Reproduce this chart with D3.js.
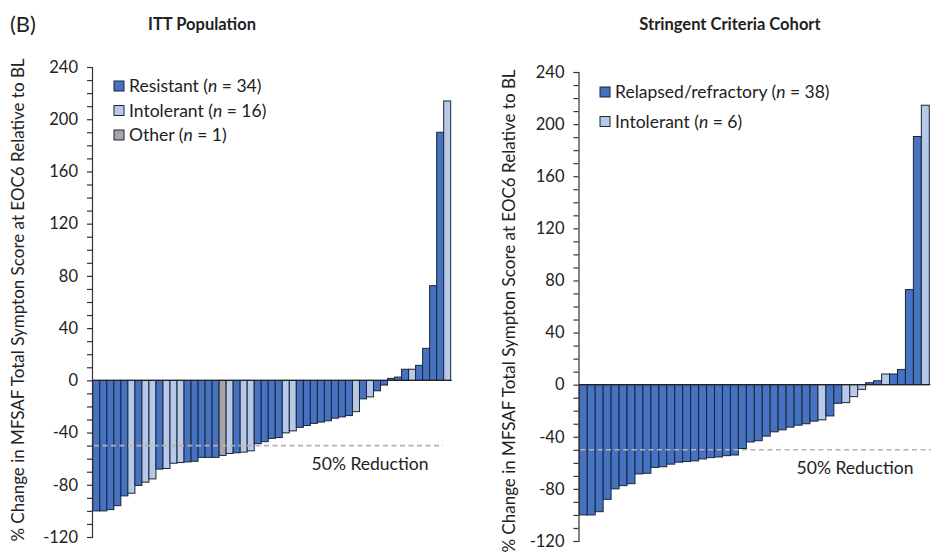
<!DOCTYPE html>
<html>
<head>
<meta charset="utf-8">
<script src="https://cdn.jsdelivr.net/npm/d3@7/dist/d3.min.js"></script>
<style>
  html, body { margin: 0; padding: 0; background: #fff; }
  svg { display: block; font-family: Lato, "Open Sans", sans-serif; }
</style>
</head>
<body>
<svg id="chart" width="935" height="552"></svg>
<script>
// Group codes: R = resistant / relapsed-refractory, I = intolerant, O = other
const ittGroups = [
  "R","R","R","R","R","I","R","I","I","R",
  "I","I","I","R","R","R","R","R","O","I",
  "R","I","I","R","R","R","R","I","I","R",
  "R","R","R","R","R","R","R","I","R","I",
  "R","R","R","R","R","I","R","R","R","R","I"
];
const ittValues = [
  -100, -100, -99, -96, -88.5, -86.5, -80.5, -78, -75.5, -68,
  -67.5, -63.5, -63, -62.5, -62, -59, -59, -59, -57.5, -56,
  -55.5, -55, -54, -48.5, -47, -44.5, -43.8, -40.2, -38.7, -36,
  -34.6, -33, -32, -31, -29, -28, -27, -24, -14.2, -12.7,
  -8, -3.6, 1.5, 2.5, 8.5, 8.5, 11.5, 24.5, 72.5, 190, 214
];

const scGroups = [
  "R","R","R","R","R","R","R","R","R","R",
  "R","R","R","R","R","R","R","R","R","R",
  "R","R","R","R","R","R","R","R","R","R",
  "I","R","R","I","I","I","R","R","I","R",
  "R","R","R","I"
];
const scValues = [
  -100, -100, -97.5, -88, -80, -77.5, -76, -68.5, -68, -63.5,
  -63, -61, -59.5, -59, -58.5, -57, -56, -55.5, -54.5, -54,
  -49, -44, -43, -39.5, -36.2, -34.7, -32.6, -31.1, -30, -28,
  -27, -24, -14.3, -13.8, -9.2, -3.6, 1.5, 3, 8.2, 8.2,
  11.7, 73, 190.5, 214.5
];

const yTicks = d3.range(-120, 241, 10);
const yLabelTicks = [-120, -80, -40, 0, 40, 80, 120, 160, 200, 240];
const reductionLevel = -50;

const ittLegend = [
  { g: "R", name: "Resistant", n: "34" },
  { g: "I", name: "Intolerant", n: "16" },
  { g: "O", name: "Other", n: "1" }
];
const scLegend = [
  { g: "R", name: "Relapsed/refractory", n: "38" },
  { g: "I", name: "Intolerant", n: "6" }
];

const fills = { R: "#4672c2", I: "#b7c9e8", O: "#a6a6a6" };
const yTitle = "% Change in MFSAF Total Sympton Score at EOC6 Relative to BL";

const svg = d3.select("#chart");

svg.append("text")
  .attr("x", 10).attr("y", 32)
  .attr("font-size", 22).attr("fill", "#222")
  .text("(B)");

function panel(cfg) {
  const g = svg.append("g");
  const y = d3.scaleLinear().domain([-120, 240]).range([cfg.bottom, cfg.top]);
  const x = d3.scaleBand()
    .domain(d3.range(cfg.values.length))
    .range([cfg.axisX + 0.8, cfg.right])
    .padding(0);

  // title
  g.append("text")
    .attr("x", cfg.titleX).attr("y", 30)
    .attr("text-anchor", "middle")
    .attr("font-size", 16.5).attr("font-weight", 700).attr("fill", "#222")
    .text(cfg.title);

  // y-axis title
  g.append("text")
    .attr("transform", `translate(${cfg.yTitleX},${cfg.yTitleY}) rotate(-90)`)
    .attr("text-anchor", "middle")
    .attr("font-size", 17).attr("fill", "#222")
    .text(yTitle);

  // bars
  g.append("g").selectAll("rect")
    .data(cfg.values)
    .join("rect")
    .attr("x", (d, i) => x(i))
    .attr("width", x.bandwidth())
    .attr("y", d => y(Math.max(0, d)))
    .attr("height", d => Math.abs(y(d) - y(0)))
    .attr("fill", (d, i) => fills[cfg.groups[i]])
    .attr("stroke", "#1c2536")
    .attr("stroke-width", 1);

  // zero line
  g.append("line")
    .attr("x1", cfg.axisX).attr("x2", cfg.right + 1)
    .attr("y1", y(0)).attr("y2", y(0))
    .attr("stroke", "#222").attr("stroke-width", 1.2);

  // 50% reduction reference line
  g.append("line")
    .attr("x1", cfg.axisX + 2).attr("x2", cfg.dashEnd)
    .attr("y1", y(reductionLevel)).attr("y2", y(reductionLevel))
    .attr("stroke", "#b3b3b3").attr("stroke-width", 1.6)
    .attr("stroke-dasharray", "5,3.5");

  g.append("text")
    .attr("x", cfg.noteX).attr("y", y(reductionLevel) + 24)
    .attr("text-anchor", "middle")
    .attr("font-size", 17.5).attr("fill", "#222")
    .text("50% Reduction");

  // y axis
  const axis = d3.axisLeft(y)
    .tickValues(yTicks)
    .tickSize(5)
    .tickPadding(9)
    .tickFormat(v => yLabelTicks.includes(v) ? v : "");
  const ag = g.append("g")
    .attr("transform", `translate(${cfg.axisX},0)`)
    .call(axis);
  ag.select(".domain").attr("stroke", "#333").attr("stroke-width", 1.2);
  ag.selectAll(".tick line").attr("stroke", "#333").attr("stroke-width", 1.2);
  ag.selectAll(".tick text")
    .attr("font-family", "Lato, sans-serif")
    .attr("font-size", 16.5).attr("fill", "#222");

  // legend
  const lg = g.append("g");
  cfg.legend.forEach((item, k) => {
    const cy = cfg.legendY + k * cfg.legendStep;
    lg.append("rect")
      .attr("x", cfg.legendX).attr("y", cy - 5)
      .attr("width", 10).attr("height", 10)
      .attr("fill", fills[item.g])
      .attr("stroke", "#1c2536").attr("stroke-width", 1);
    const t = lg.append("text")
      .attr("x", cfg.legendX + 15).attr("y", cy + 6)
      .attr("font-size", 17.5).attr("fill", "#222");
    t.append("tspan").text(item.name + " (");
    t.append("tspan").attr("font-style", "italic").text("n");
    t.append("tspan").text(" = " + item.n + ")");
  });
}

panel({
  title: "ITT Population", titleX: 202,
  values: ittValues, groups: ittGroups, legend: ittLegend,
  axisX: 92, right: 450.7, top: 67, bottom: 537,
  yTitleX: 24, yTitleY: 300, dashEnd: 443, noteX: 370,
  legendX: 114, legendY: 86, legendStep: 24.5
});

panel({
  title: "Stringent Criteria Cohort", titleX: 730,
  values: scValues, groups: scGroups, legend: scLegend,
  axisX: 578.5, right: 929.3, top: 72, bottom: 541,
  yTitleX: 515, yTitleY: 311, dashEnd: 931, noteX: 855,
  legendX: 600, legendY: 92, legendStep: 29.5
});
</script>
</body>
</html>
